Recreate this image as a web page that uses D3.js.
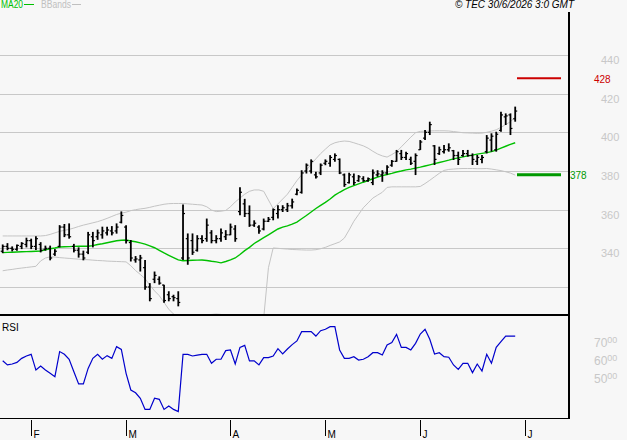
<!DOCTYPE html>
<html>
<head>
<meta charset="utf-8">
<script src="https://cdn.jsdelivr.net/npm/d3@7/dist/d3.min.js"></script>
<style>
body { margin: 0; background: #f7f7f7; }
svg { display: block; font-family: "Liberation Sans", Arial, sans-serif; }
</style>
</head>
<body>
<div id="chart"></div>
<script>
// daily bars, one per trading day (23 Jan .. 29 Jun)
var opens = [338.5,341,340,339.5,341,342,344,341,342,339.5,
	340,337,341,351,347,341,339,337,338,346,
	346,347,348,349,349,353.5,351,343,334,334,
	330,320,324,324,321,316,315,314,335,345,
	344,339,345,345,348,344,345,346,347,350,
	359,363,358,352,351,350,354,356,358,360,
	360,362,368,369,380,380,378,379,384,384,
	386,386,378,374,377,375,376,375,374,378,
	378,379,383,385,389,387,386,385,391,397,
	400,393,389,390,391,390.5,388,388,389,388,
	385,386,390,396,391,401,408,409,407];
var highs = [342,342.7,341,342,343.2,345.5,345,346.2,343.2,341.4,
	341.4,339.6,352,352.6,352.9,342.3,340.5,338.8,348.5,348.5,
	349.7,351.2,351.2,351.5,352.9,359.1,352,344.3,336,336.6,
	334,322,328,325.5,321.2,317.8,316,317.8,362.7,347.7,
	347.7,346.8,346.8,355.4,349.4,346.8,350.3,349.4,352.8,352,
	371.6,365.6,362.2,354.5,351.9,355.4,356.2,360.6,362.3,362.3,
	363.5,365.7,370.9,380.4,383.9,386,379.6,383.9,386,388.2,
	389.1,386.5,378.7,379.1,378.7,377.9,377.3,376.6,380.8,380.4,
	380.4,383,385.7,390.9,390.9,390,387.4,389.1,396,401.2,
	405.5,393.4,392.6,393.4,394.3,390.9,390,390.9,390.9,389.1,
	388.3,388.3,398.6,399.5,400.3,410.7,409.8,409.8,413.3];
var lows = [337.5,339,338.4,338.8,339.6,340.5,339.6,339.1,337.9,338.8,
	333.8,336.1,340.5,345.8,345,337.9,335.2,333.8,337,340.5,
	344.4,345,346.7,346.7,347.6,352.9,342.5,333.2,332.6,328,
	318.6,312.6,322,321.2,311.8,312.6,312.6,310,334,331.5,
	336.6,338.3,342.6,343.4,342.6,342.6,343.4,344.3,346.8,343.4,
	357.1,356.2,351.1,351.1,347.6,349.3,353.6,354.5,355.4,358.8,
	358.8,360.6,367.5,368.3,378.7,378.7,376.1,377.9,383,382.2,
	384.8,378.4,371.8,373.5,372.7,374.4,374.4,374.4,372.7,377,
	374.4,378,382.2,384.8,385.7,385.7,383.1,377.9,390.9,396,
	398.6,383.1,388.3,389.1,390,385.7,383.1,387.4,387.4,383.1,
	383.1,384,389.1,390,390,400.3,403.8,398.6,405.5];
var closes = [341,340,339.5,341.5,342.5,344,341,345,339,340,
	335,338.5,351,347,346,339,337,335,347,344,
	348,349,349.5,348,351,357,344,335,334.5,335,
	320,314,326,322,313,314,314.5,312,358,335,
	338,345,344,352,344,345,348,347,351,345,
	369,358,352,353,349,354,355,360,360,361,
	362,364,370,379,383,385,377,383,385,387,
	388,379,373,378,374,377,375,376,379,378.5,
	379,382,385,390,387,389,384,388,395,400,
	404,386,391,391,392,388,386,389,388,386,
	387,387,397,398,399,409,408.5,402,411];

var ma20 = [337.8,337.9,338,338.1,338.2,338.3,338.4,338.5,338.6,339.2,
	339.8,340.2,340.7,340.8,340.9,341,341.1,341.1,341.1,341.4,
	342,342.4,342.9,343.4,343.9,344.2,344.3,343.8,343.4,342.8,
	342.2,341.3,340.3,339,337.6,336.4,335.2,334,333.6,333.7,
	333.8,333.9,334,333.7,333.3,333,332.5,333.2,334,335,
	336.8,338.8,340.5,342.5,344,345.5,347,348.5,350,351,
	351.6,352.5,353.6,355.3,357,358.8,360.6,362.2,363.8,365.5,
	367.5,369,370.4,371.5,372.4,373.3,374.2,375,376,376.8,
	377.6,378.2,378.8,379.5,380,380.6,381,381.5,382,382.6,
	383.2,383.8,384.4,385,385.6,386.3,386.8,387.3,387.8,388.2,
	388.7,389.1,389.5,390,390.8,391.8,392.8,393.8,394.6];
var bbUpper = [346.4,346.4,346.4,346.4,346.4,346.4,346.4,346.4,346.4,346.6,
	347.2,348,348.8,349.3,349.8,350.5,351.3,352,352.6,353.2,
	353.8,354.6,355.5,356.5,357.5,358.2,358.7,359.5,360,360.4,
	360.7,361.2,361.8,362.3,362.8,363.1,363.2,363.2,363.2,363,
	362.8,362.6,362.4,361.5,359.8,359,359.2,359.6,361.5,364,
	366,368,369.5,370.2,370.2,369.5,365,360.5,363,365.5,
	368,371.5,375,378,380.5,383.5,386.3,389,391.3,393.5,
	394.6,395.2,395.5,395.3,394.6,393.8,393,391.8,390.2,388.8,
	387.8,387.2,388.5,390,392.5,395,397.5,399.8,400.5,400.6,
	400.7,400.8,400.8,400.8,400.7,400.4,400.1,399.8,399.7,399.6,
	399.5,399.6,400,400.6,401.3,402.6,404,405.5,407.9];
var bbLower = [328.4,328.8,329.1,329.5,329.8,330.1,330.4,330.7,333.5,335,
	335.6,335.5,335.2,335,334.8,334.6,334.4,334.2,334.1,333.9,
	333.7,333.6,333.4,333.3,333.2,333.1,333,331,328.5,326.5,
	324.3,321,318,315.5,312,308.5,306,304,303.5,304,
	304.5,305,305.3,305.5,305.8,306,305.8,305.5,305,304.5,
	304,303.5,303,302.5,302.5,304,330,340.2,340,339.8,
	339.6,339.4,339.3,339.2,339.1,339.1,339.3,339.8,340.5,341.5,
	342.4,343.3,345.3,349.5,354,357.5,361,363.5,366,367.5,
	369,371.5,371.8,371.8,371.8,371.8,371.8,371.8,372,373.5,
	375.2,377,378.8,380.3,380.8,381,381.2,381.3,381.3,381.3,
	381.2,381.2,381.3,381,380.6,380.2,379.6,378.9,377.9];
var rsi = [59.6,57.3,57.8,58.7,60.9,62.2,63.1,54.5,56.7,54.5,
	52.7,50.9,64.6,63.1,60.4,53.6,46.9,46.9,55.4,60.9,
	63.1,60.4,62.4,60.9,67.3,65.8,52.7,43.6,42.1,39.1,
	33,33,39.1,38.5,33,34.9,33,31.8,63.1,63.1,
	62.2,62.7,63.1,63.1,58.2,60.4,60.4,65.1,65.5,57.8,
	66.9,68,59.5,59.5,57.3,61.3,61.3,62.2,66.2,63.3,
	66,68.4,70.4,75.5,75.5,75.5,73.1,76,76.8,78.2,
	78.2,65.5,60.9,60.9,61.8,60,60.4,61.8,64,64,
	62.7,68.2,69.5,74,66.9,66.9,65.5,69.1,74.2,76.8,
	71.3,63.3,64,61.8,61.5,57.3,54.9,58.2,58.2,53.1,
	57.8,54,63.1,58.2,66.9,70,73.1,73.1,73.1];

var monthLabels = ["F", "M", "A", "M", "J", "J"];
var monthStarts = [6, 26, 48, 68, 88, 110];   // bar slot of the 1st trading day
var priceTicks = [340, 360, 380, 400, 420, 440];
var gridLevels = [320, 340, 360, 380, 400, 420, 440];
var rsiTicks = [70, 60, 50];
var targetHigh = 428;
var targetLow = 378;

var width = 627;
var height = 440;
var plotRight = 569;

var bars = opens.map(function(o, i) {
	return {i: i, open: o, high: highs[i], low: lows[i], close: closes[i]};
});

/* Scales */
var x = d3.scaleLinear()
	.domain([0, 108])
	.range([2.7, 515.2]);

var y = d3.scaleLinear()
	.domain([320, 440])
	.range([287, 55]);

var yRsi = d3.scaleLinear()
	.domain([50, 70])
	.range([378.3, 341.7]);

var svg = d3.select("#chart").append("svg")
	.attr("width", width)
	.attr("height", height);

svg.append("rect")
	.attr("width", width)
	.attr("height", height)
	.attr("fill", "#f7f7f7");

svg.append("clipPath").attr("id", "main-clip")
	.append("rect")
	.attr("x", 0).attr("y", 12)
	.attr("width", plotRight).attr("height", 302);

svg.append("clipPath").attr("id", "rsi-clip")
	.append("rect")
	.attr("x", 0).attr("y", 316)
	.attr("width", plotRight).attr("height", 102);

/* grid */
svg.append("g")
	.selectAll("line")
	.data(gridLevels).enter()
	.append("line")
	.attr("x1", 0)
	.attr("x2", plotRight)
	.attr("y1", d => Math.round(y(d)) + 0.5)
	.attr("y2", d => Math.round(y(d)) + 0.5)
	.attr("stroke", "#c8c8c8")
	.attr("stroke-width", 1);

var main = svg.append("g").attr("clip-path", "url(#main-clip)");

/* Bollinger bands */
var seriesLine = d3.line()
	.x((d, i) => x(i))
	.y(d => y(d));

main.selectAll(".band")
	.data([bbUpper, bbLower]).enter()
	.append("path")
	.attr("class", "band")
	.attr("d", d => seriesLine(d))
	.attr("fill", "none")
	.attr("stroke", "#c4c4c4")
	.attr("stroke-width", 1);

/* MA20 */
main.append("path")
	.attr("d", seriesLine(ma20))
	.attr("fill", "none")
	.attr("stroke", "#00c000")
	.attr("stroke-width", 1.4);

/* OHLC bars */
var barG = main.append("g").selectAll("g")
	.data(bars).enter()
	.append("g");

barG.append("line")
	.attr("x1", d => x(d.i)).attr("x2", d => x(d.i))
	.attr("y1", d => y(d.high)).attr("y2", d => y(d.low))
	.attr("stroke", "#000")
	.attr("stroke-width", 1.8);

barG.append("line")
	.attr("x1", d => x(d.i) - 2).attr("x2", d => x(d.i))
	.attr("y1", d => y(d.open)).attr("y2", d => y(d.open))
	.attr("stroke", "#000")
	.attr("stroke-width", 1.2);

barG.append("line")
	.attr("x1", d => x(d.i)).attr("x2", d => x(d.i) + 2)
	.attr("y1", d => y(d.close)).attr("y2", d => y(d.close))
	.attr("stroke", "#000")
	.attr("stroke-width", 1.2);

/* target levels */
svg.append("line")
	.attr("x1", 517).attr("x2", 561)
	.attr("y1", y(targetHigh)).attr("y2", y(targetHigh))
	.attr("stroke", "#cc0000")
	.attr("stroke-width", 2);

svg.append("line")
	.attr("x1", 517).attr("x2", 561)
	.attr("y1", y(targetLow)).attr("y2", y(targetLow))
	.attr("stroke", "#009900")
	.attr("stroke-width", 3);

svg.append("text")
	.attr("x", 594)
	.attr("y", y(targetHigh) + 5)
	.attr("font-size", 10)
	.attr("fill", "#cc0000")
	.text(targetHigh);

svg.append("text")
	.attr("x", 570)
	.attr("y", y(targetLow) + 4)
	.attr("font-size", 10)
	.attr("fill", "#009900")
	.text(targetLow);

/* right price axis */
svg.append("g")
	.selectAll("text")
	.data(priceTicks).enter()
	.append("text")
	.attr("x", 601)
	.attr("y", d => y(d) + 9)
	.attr("font-size", 11)
	.attr("fill", "#c8c8c8")
	.text(d => d);

/* RSI panel */
svg.append("path")
	.attr("clip-path", "url(#rsi-clip)")
	.attr("d", d3.line().x((d, i) => x(i)).y(d => yRsi(d))(rsi))
	.attr("fill", "none")
	.attr("stroke", "#0000cc")
	.attr("stroke-width", 1.2);

svg.append("text")
	.attr("x", 2)
	.attr("y", 331)
	.attr("font-size", 10)
	.attr("fill", "#000")
	.text("RSI");

var rsiLab = svg.append("g")
	.selectAll("text")
	.data(rsiTicks).enter()
	.append("text")
	.attr("x", 594)
	.attr("y", d => yRsi(d) + 5)
	.attr("font-size", 12)
	.attr("fill", "#c8c8c8");
rsiLab.append("tspan").text(d => d);
rsiLab.append("tspan")
	.attr("font-size", 9)
	.attr("dy", -4)
	.text("00");

/* frame */
svg.append("line")
	.attr("x1", 0).attr("x2", plotRight)
	.attr("y1", 315).attr("y2", 315)
	.attr("stroke", "#000").attr("stroke-width", 2);
svg.append("line")
	.attr("x1", 0).attr("x2", plotRight)
	.attr("y1", 418.5).attr("y2", 418.5)
	.attr("stroke", "#000").attr("stroke-width", 1);
svg.append("line")
	.attr("x1", plotRight).attr("x2", plotRight)
	.attr("y1", 12).attr("y2", 419)
	.attr("stroke", "#000").attr("stroke-width", 2);

/* month axis */
var months = svg.append("g")
	.selectAll("g")
	.data(monthStarts).enter()
	.append("g")
	.attr("transform", d => "translate(" + (Math.round(x(d)) + 0.5) + ",0)");
months.append("line")
	.attr("y1", 420).attr("y2", 436)
	.attr("stroke", "#000");
months.append("text")
	.attr("x", 2)
	.attr("y", 438)
	.attr("font-size", 10)
	.text((d, i) => monthLabels[i]);

/* legend and stamp */
svg.append("text")
	.attr("x", 1).attr("y", 8)
	.attr("font-size", 10)
	.attr("textLength", 22)
	.attr("lengthAdjust", "spacingAndGlyphs")
	.attr("fill", "#00c000")
	.text("MA20");
svg.append("line")
	.attr("x1", 24).attr("x2", 34)
	.attr("y1", 4.5).attr("y2", 4.5)
	.attr("stroke", "#00c000").attr("stroke-width", 1);
svg.append("text")
	.attr("x", 41).attr("y", 8)
	.attr("font-size", 10)
	.attr("textLength", 30)
	.attr("lengthAdjust", "spacingAndGlyphs")
	.attr("fill", "#c0c0c0")
	.text("BBands");
svg.append("line")
	.attr("x1", 72).attr("x2", 81)
	.attr("y1", 4.5).attr("y2", 4.5)
	.attr("stroke", "#c0c0c0").attr("stroke-width", 1);

svg.append("text")
	.attr("x", 574).attr("y", 8)
	.attr("text-anchor", "end")
	.attr("font-size", 10)
	.attr("font-style", "italic")
	.text("\u00a9 TEC 30/6/2026 3:0 GMT");
</script>
</body>
</html>
